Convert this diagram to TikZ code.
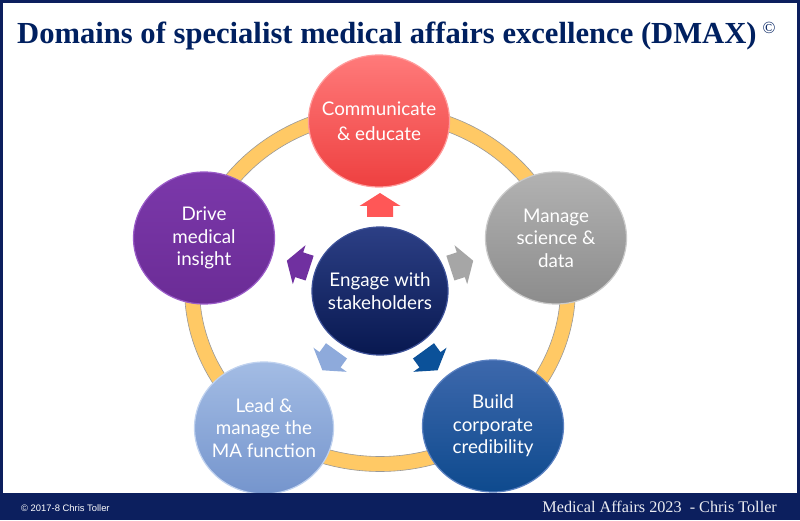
\documentclass[tikz,border=0pt]{standalone}
\usepackage{fontspec}
\setmainfont{Liberation Serif}
\newfontfamily\circfont{Lato}
\newfontfamily\smallfont{Liberation Sans}
\usetikzlibrary{shapes.geometric}
\definecolor{navy}{HTML}{0C1F5E}
\definecolor{titlec}{HTML}{002060}
\definecolor{ringc}{HTML}{FFC965}
\definecolor{comT}{HTML}{FF7A7A}
\definecolor{comB}{HTML}{EE4040}
\definecolor{comR}{HTML}{FF9C9C}
\definecolor{drvT}{HTML}{7B38AA}
\definecolor{drvB}{HTML}{6B2C96}
\definecolor{drvR}{HTML}{9A5CC8}
\definecolor{manT}{HTML}{B2B2B2}
\definecolor{manB}{HTML}{8C8C8C}
\definecolor{manR}{HTML}{CACACA}
\definecolor{leadT}{HTML}{A3BCE4}
\definecolor{leadB}{HTML}{7595CD}
\definecolor{leadR}{HTML}{C0D2EF}
\definecolor{bldT}{HTML}{3D68AC}
\definecolor{bldB}{HTML}{0E4A8E}
\definecolor{bldR}{HTML}{5C82C2}
\definecolor{cenT}{HTML}{2C3F85}
\definecolor{cenB}{HTML}{081850}
\definecolor{cenR}{HTML}{3E5299}
\definecolor{arR}{HTML}{FF5757}
\definecolor{arP}{HTML}{7030A0}
\definecolor{arG}{HTML}{A6A6A6}
\definecolor{arL}{HTML}{8EAADB}
\definecolor{arB}{HTML}{0B5199}
\begin{document}
\begin{tikzpicture}[x=1pt,y=1pt,
  dom/.style={ellipse, minimum width=141pt, minimum height=132pt, inner sep=0pt,
    line width=1.2pt},
  domtext/.style={align=center, text=white, inner sep=0pt,
    font=\circfont\fontsize{18.8}{22.5}\selectfont},
  blockarrow/.style={fill=#1},
  txt/.style={inner sep=0pt}
]
\useasboundingbox (0,0) rectangle (800,520);
\fill[white] (0,0) rectangle (800,520);
% ring
\fill[ringc, even odd rule, draw=gray!80, line width=0.6pt]
  (380,232) ellipse [x radius=195.5, y radius=183.5]
  (380,232) ellipse [x radius=180.5, y radius=168.5];
% domain circles
\node[dom, top color=comT, bottom color=comB, draw=comR,
  label={[domtext, font=\circfont\fontsize{18.8}{25.5}\selectfont]center:{Communicate\\\& educate}}] (com) at (379,399) {};
\node[dom, top color=drvT, bottom color=drvB, draw=drvR,
  label={[domtext]center:{Drive\\medical\\insight}}] (drv) at (204,282) {};
\node[dom, top color=manT, bottom color=manB, draw=manR,
  label={[domtext]center:{Manage\\science \&\\data}}] (man) at (556,282) {};
\node[dom, top color=leadT, bottom color=leadB, draw=leadR, minimum width=139pt,
  label={[domtext]center:{Lead \&\\manage the\\MA function}}] (lead) at (264,92) {};
\node[dom, top color=bldT, bottom color=bldB, draw=bldR,
  label={[domtext]center:{Build\\corporate\\credibility}}] (bld) at (493,94) {};
\node[dom, top color=cenT, bottom color=cenB, draw=cenR, minimum width=136pt, minimum height=128pt,
  label={[domtext]center:{Engage with\\stakeholders}}] (cen) at (380,229) {};
% block arrows from the centre towards each domain
\foreach \ang/\col in {90/arR,162/arP,18/arG,234/arL,306/arB}{
  \path[blockarrow=\col, shift={(cen.center)}, rotate=\ang]
    (74,-13) -- (85,-13) -- (85,-20.5) -- (98,0) -- (85,20.5) -- (85,13) -- (74,13) -- cycle;
}
% frame and footer bar
\fill[navy] (0,0) rectangle (800,27);
\draw[navy, line width=3pt] (1.5,1.5) rectangle (798.5,518.5);
% title
\node[txt, anchor=base west, text=titlec, font=\fontsize{30.6}{36}\selectfont\bfseries] (title) at (17,476)
  {Domains of specialist medical affairs excellence (DMAX)\hspace{6pt}\raisebox{10pt}{\fontsize{17}{20}\selectfont\mdseries ©}};
% footer texts
\node[txt, anchor=base west, text=white, font=\smallfont\fontsize{9.4}{11}\selectfont] (copy) at (21,9) {© 2017-8 Chris Toller};
\node[txt, anchor=base east, text=white!92!navy, font=\fontsize{16.2}{19}\selectfont] (foot) at (777,8) {Medical Affairs 2023~ - Chris Toller};
\end{tikzpicture}
\end{document}
